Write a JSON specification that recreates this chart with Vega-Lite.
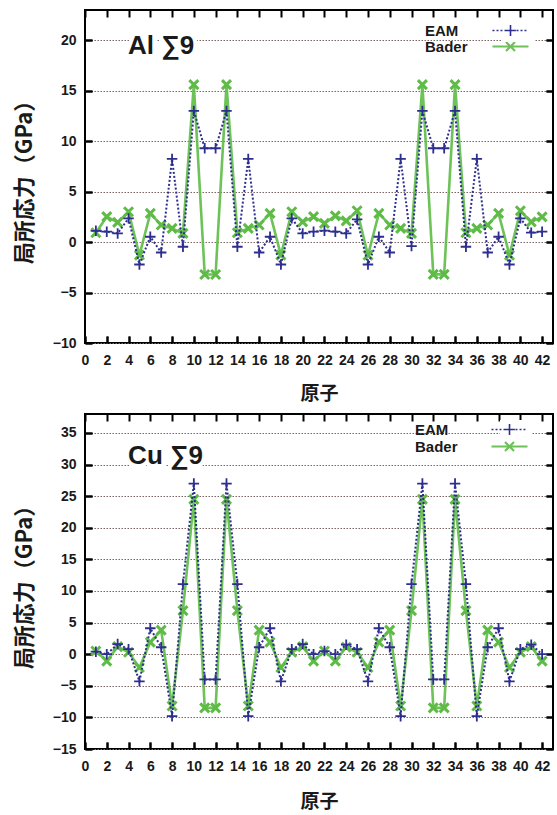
{
  "$schema": "https://vega.github.io/schema/vega-lite/v6.json",
  "background": "white",
  "padding": {"left": 12, "top": 9, "right": 4, "bottom": 0},
  "spacing": 9,
  "datasets": {
    "al": [
      {"atom":1,"series":"EAM","stress":1.12},{"atom":2,"series":"EAM","stress":1.03},{"atom":3,"series":"EAM","stress":0.86},{"atom":4,"series":"EAM","stress":2.35},{"atom":5,"series":"EAM","stress":-2.22},{"atom":6,"series":"EAM","stress":0.53},{"atom":7,"series":"EAM","stress":-1.03},{"atom":8,"series":"EAM","stress":8.24},{"atom":9,"series":"EAM","stress":-0.46},{"atom":10,"series":"EAM","stress":13.0},{"atom":11,"series":"EAM","stress":9.3},{"atom":12,"series":"EAM","stress":9.3},{"atom":13,"series":"EAM","stress":13.0},{"atom":14,"series":"EAM","stress":-0.46},{"atom":15,"series":"EAM","stress":8.24},{"atom":16,"series":"EAM","stress":-1.03},{"atom":17,"series":"EAM","stress":0.53},{"atom":18,"series":"EAM","stress":-2.22},{"atom":19,"series":"EAM","stress":2.35},{"atom":20,"series":"EAM","stress":0.86},{"atom":21,"series":"EAM","stress":1.03},
      {"atom":22,"series":"EAM","stress":1.13},{"atom":23,"series":"EAM","stress":1.03},{"atom":24,"series":"EAM","stress":0.86},{"atom":25,"series":"EAM","stress":2.25},{"atom":26,"series":"EAM","stress":-2.22},{"atom":27,"series":"EAM","stress":0.53},{"atom":28,"series":"EAM","stress":-1.03},{"atom":29,"series":"EAM","stress":8.24},{"atom":30,"series":"EAM","stress":-0.4},{"atom":31,"series":"EAM","stress":13.0},{"atom":32,"series":"EAM","stress":9.3},{"atom":33,"series":"EAM","stress":9.3},{"atom":34,"series":"EAM","stress":13.0},{"atom":35,"series":"EAM","stress":-0.46},{"atom":36,"series":"EAM","stress":8.24},{"atom":37,"series":"EAM","stress":-1.03},{"atom":38,"series":"EAM","stress":0.53},{"atom":39,"series":"EAM","stress":-2.22},{"atom":40,"series":"EAM","stress":2.35},{"atom":41,"series":"EAM","stress":0.93},{"atom":42,"series":"EAM","stress":1.03},
      {"atom":1,"series":"Bader","stress":0.93},{"atom":2,"series":"Bader","stress":2.52},{"atom":3,"series":"Bader","stress":1.95},{"atom":4,"series":"Bader","stress":3.01},{"atom":5,"series":"Bader","stress":-1.29},{"atom":6,"series":"Bader","stress":2.85},{"atom":7,"series":"Bader","stress":1.69},{"atom":8,"series":"Bader","stress":1.36},{"atom":9,"series":"Bader","stress":0.86},{"atom":10,"series":"Bader","stress":15.6},{"atom":11,"series":"Bader","stress":-3.21},{"atom":12,"series":"Bader","stress":-3.21},{"atom":13,"series":"Bader","stress":15.6},{"atom":14,"series":"Bader","stress":0.93},{"atom":15,"series":"Bader","stress":1.36},{"atom":16,"series":"Bader","stress":1.69},{"atom":17,"series":"Bader","stress":2.85},{"atom":18,"series":"Bader","stress":-1.29},{"atom":19,"series":"Bader","stress":3.01},{"atom":20,"series":"Bader","stress":2.0},{"atom":21,"series":"Bader","stress":2.52},
      {"atom":22,"series":"Bader","stress":1.85},{"atom":23,"series":"Bader","stress":2.6},{"atom":24,"series":"Bader","stress":2.1},{"atom":25,"series":"Bader","stress":3.1},{"atom":26,"series":"Bader","stress":-1.3},{"atom":27,"series":"Bader","stress":2.85},{"atom":28,"series":"Bader","stress":1.7},{"atom":29,"series":"Bader","stress":1.36},{"atom":30,"series":"Bader","stress":0.86},{"atom":31,"series":"Bader","stress":15.6},{"atom":32,"series":"Bader","stress":-3.2},{"atom":33,"series":"Bader","stress":-3.2},{"atom":34,"series":"Bader","stress":15.6},{"atom":35,"series":"Bader","stress":0.93},{"atom":36,"series":"Bader","stress":1.36},{"atom":37,"series":"Bader","stress":1.7},{"atom":38,"series":"Bader","stress":2.85},{"atom":39,"series":"Bader","stress":-1.3},{"atom":40,"series":"Bader","stress":3.1},{"atom":41,"series":"Bader","stress":2.0},{"atom":42,"series":"Bader","stress":2.5}
    ],
    "cu": [
      {"atom":1,"series":"EAM","stress":0.4},{"atom":2,"series":"EAM","stress":0.0},{"atom":3,"series":"EAM","stress":1.6},{"atom":4,"series":"EAM","stress":0.8},{"atom":5,"series":"EAM","stress":-4.3},{"atom":6,"series":"EAM","stress":4.1},{"atom":7,"series":"EAM","stress":1.1},{"atom":8,"series":"EAM","stress":-9.8},{"atom":9,"series":"EAM","stress":11.1},{"atom":10,"series":"EAM","stress":27.0},{"atom":11,"series":"EAM","stress":-4.0},{"atom":12,"series":"EAM","stress":-4.0},{"atom":13,"series":"EAM","stress":27.0},{"atom":14,"series":"EAM","stress":11.1},{"atom":15,"series":"EAM","stress":-9.8},{"atom":16,"series":"EAM","stress":1.1},{"atom":17,"series":"EAM","stress":4.1},{"atom":18,"series":"EAM","stress":-4.3},{"atom":19,"series":"EAM","stress":0.8},{"atom":20,"series":"EAM","stress":1.6},{"atom":21,"series":"EAM","stress":0.0},
      {"atom":22,"series":"EAM","stress":0.5},{"atom":23,"series":"EAM","stress":0.0},{"atom":24,"series":"EAM","stress":1.5},{"atom":25,"series":"EAM","stress":0.8},{"atom":26,"series":"EAM","stress":-4.3},{"atom":27,"series":"EAM","stress":4.1},{"atom":28,"series":"EAM","stress":1.1},{"atom":29,"series":"EAM","stress":-9.8},{"atom":30,"series":"EAM","stress":11.1},{"atom":31,"series":"EAM","stress":27.0},{"atom":32,"series":"EAM","stress":-4.0},{"atom":33,"series":"EAM","stress":-4.0},{"atom":34,"series":"EAM","stress":27.0},{"atom":35,"series":"EAM","stress":11.1},{"atom":36,"series":"EAM","stress":-9.8},{"atom":37,"series":"EAM","stress":1.1},{"atom":38,"series":"EAM","stress":4.1},{"atom":39,"series":"EAM","stress":-4.3},{"atom":40,"series":"EAM","stress":0.8},{"atom":41,"series":"EAM","stress":1.5},{"atom":42,"series":"EAM","stress":0.0},
      {"atom":1,"series":"Bader","stress":0.5},{"atom":2,"series":"Bader","stress":-1.1},{"atom":3,"series":"Bader","stress":1.2},{"atom":4,"series":"Bader","stress":0.3},{"atom":5,"series":"Bader","stress":-2.1},{"atom":6,"series":"Bader","stress":1.9},{"atom":7,"series":"Bader","stress":3.8},{"atom":8,"series":"Bader","stress":-8.2},{"atom":9,"series":"Bader","stress":6.9},{"atom":10,"series":"Bader","stress":24.5},{"atom":11,"series":"Bader","stress":-8.5},{"atom":12,"series":"Bader","stress":-8.5},{"atom":13,"series":"Bader","stress":24.5},{"atom":14,"series":"Bader","stress":6.9},{"atom":15,"series":"Bader","stress":-8.2},{"atom":16,"series":"Bader","stress":3.8},{"atom":17,"series":"Bader","stress":1.9},{"atom":18,"series":"Bader","stress":-2.1},{"atom":19,"series":"Bader","stress":0.3},{"atom":20,"series":"Bader","stress":1.2},{"atom":21,"series":"Bader","stress":-1.1},
      {"atom":22,"series":"Bader","stress":0.5},{"atom":23,"series":"Bader","stress":-1.1},{"atom":24,"series":"Bader","stress":1.1},{"atom":25,"series":"Bader","stress":0.3},{"atom":26,"series":"Bader","stress":-2.1},{"atom":27,"series":"Bader","stress":1.9},{"atom":28,"series":"Bader","stress":3.8},{"atom":29,"series":"Bader","stress":-8.2},{"atom":30,"series":"Bader","stress":6.9},{"atom":31,"series":"Bader","stress":24.5},{"atom":32,"series":"Bader","stress":-8.5},{"atom":33,"series":"Bader","stress":-8.5},{"atom":34,"series":"Bader","stress":24.5},{"atom":35,"series":"Bader","stress":6.9},{"atom":36,"series":"Bader","stress":-8.2},{"atom":37,"series":"Bader","stress":3.8},{"atom":38,"series":"Bader","stress":1.9},{"atom":39,"series":"Bader","stress":-2.1},{"atom":40,"series":"Bader","stress":0.3},{"atom":41,"series":"Bader","stress":1.2},{"atom":42,"series":"Bader","stress":-1.1}
    ]
  },
  "vconcat": [
    {
      "width": 468,
      "height": 333,
      "layer": [
        {
          "data": {"name": "al"},
          "transform": [{"filter": "datum.series === 'Bader'"}],
          "mark": {"type": "line", "strokeWidth": 2.6, "opacity": 0.9},
          "encoding": {
            "x": {"field": "atom", "type": "quantitative", "scale": {"domain": [0, 43], "nice": false},
                  "axis": {"orient": "bottom", "title": "原子", "ticks": true, "tickSize": -7, "values": [0,2,4,6,8,10,12,14,16,18,20,22,24,26,28,30,32,34,36,38,40,42],
                           "grid": true, "gridColor": "black", "gridWidth": 2, "gridDash": [7, 319, 7, 1000], "labelPadding": 17, "titlePadding": 17}},
            "y": {"field": "stress", "type": "quantitative", "scale": {"domain": [-10, 23], "nice": false, "zero": false},
                  "axis": {"orient": "left", "title": "局所応力（GPa）", "ticks": true, "tickSize": -7, "values": [-10,-5,0,5,10,15,20], "grid": true, "labelPadding": 16, "titlePadding": 16}},
            "color": {"field": "series", "type": "nominal",
                      "scale": {"domain": ["Bader"], "range": ["#5dbb46"]},
                      "legend": {"orient": "none", "legendX": 416, "legendY": 27, "symbolStrokeWidth": 2.2, "labelOffset": -93,
                                 "symbolType": "M-3,0H3M-0.75,-0.75L0.75,0.75M-0.75,0.75L0.75,-0.75"}}
          }
        },
        {
          "data": {"name": "al"},
          "transform": [{"filter": "datum.series === 'Bader'"}],
          "mark": {"type": "point", "shape": "M-1,-1L1,1M-1,1L1,-1", "filled": false, "color": "#5dbb46", "strokeWidth": 3, "size": 81, "opacity": 1},
          "encoding": {
            "x": {"field": "atom", "type": "quantitative", "axis": null},
            "y": {"field": "stress", "type": "quantitative", "axis": null}
          }
        },
        {
          "data": {"name": "al"},
          "transform": [{"filter": "datum.series === 'EAM'"}],
          "mark": {"type": "line", "strokeWidth": 2, "strokeDash": [2, 2]},
          "encoding": {
            "x": {"field": "atom", "type": "quantitative", "axis": null},
            "y": {"field": "stress", "type": "quantitative",
                  "axis": {"orient": "right", "ticks": true, "tickSize": -7, "labels": false, "title": null, "values": [-10,-5,0,5,10,15,20],
                           "grid": true, "gridColor": "black", "gridWidth": 2, "gridDash": [7, 454, 7, 1000]}},
            "stroke": {"field": "series", "type": "nominal",
                       "scale": {"domain": ["EAM"], "range": ["#2e2e8f"]},
                       "legend": {"orient": "none", "legendX": 416, "legendY": 11, "symbolStrokeWidth": 1.6, "labelOffset": -93,
                                  "symbolType": "M-3,0h0.33M-2.33,0h0.33M-1.67,0h0.33M-1,0h0.33M-0.33,0h0.33M0.33,0h0.33M1,0h0.33M1.67,0h0.33M2.33,0h0.33M0,-0.9V0.9M-0.9,0H0.9"}}
          }
        },
        {
          "data": {"name": "al"},
          "transform": [{"filter": "datum.series === 'EAM'"}],
          "mark": {"type": "point", "shape": "M-1,0H1M0,-1V1", "filled": false, "color": "#2e2e8f", "strokeWidth": 1.8, "size": 110, "opacity": 1},
          "encoding": {
            "x": {"field": "atom", "type": "quantitative", "axis": null},
            "y": {"field": "stress", "type": "quantitative", "axis": null}
          }
        },
        {
          "data": {"values": [{"label": "Al ∑9"}]},
          "mark": {"type": "text", "font": "Liberation Sans", "fontWeight": "bold", "fontSize": 26, "align": "center", "baseline": "middle", "fill": "white", "stroke": "white", "strokeWidth": 8},
          "encoding": {
            "x": {"datum": 7.0, "type": "quantitative", "axis": null},
            "y": {"datum": 19.4, "type": "quantitative", "axis": null},
            "text": {"field": "label"}
          }
        },
        {
          "data": {"values": [{"label": "Al ∑9"}]},
          "mark": {"type": "text", "font": "Liberation Sans", "fontWeight": "bold", "fontSize": 26, "align": "center", "baseline": "middle", "fill": "#1a1a1a"},
          "encoding": {
            "x": {"datum": 7.0, "type": "quantitative", "axis": null},
            "y": {"datum": 19.4, "type": "quantitative", "axis": null},
            "text": {"field": "label"}
          }
        }
      ],
      "resolve": {"axis": {"x": "independent", "y": "independent"}}
    },
    {
      "width": 468,
      "height": 335,
      "layer": [
        {
          "data": {"name": "cu"},
          "transform": [{"filter": "datum.series === 'Bader'"}],
          "mark": {"type": "line", "strokeWidth": 2.6, "opacity": 0.9},
          "encoding": {
            "x": {"field": "atom", "type": "quantitative", "scale": {"domain": [0, 43], "nice": false},
                  "axis": {"orient": "bottom", "title": "原子", "ticks": true, "tickSize": -7, "values": [0,2,4,6,8,10,12,14,16,18,20,22,24,26,28,30,32,34,36,38,40,42],
                           "grid": true, "gridColor": "black", "gridWidth": 2, "gridDash": [7, 321, 7, 1000], "labelPadding": 17, "titlePadding": 19}},
            "y": {"field": "stress", "type": "quantitative", "scale": {"domain": [-15, 38], "nice": false, "zero": false},
                  "axis": {"orient": "left", "title": "局所応力（GPa）", "ticks": true, "tickSize": -7, "values": [-15,-10,-5,0,5,10,15,20,25,30,35], "grid": true, "labelPadding": 16, "titlePadding": 16}},
            "color": {"field": "series", "type": "nominal",
                      "scale": {"domain": ["Bader"], "range": ["#5dbb46"]},
                      "legend": {"orient": "none", "legendX": 415, "legendY": 23, "symbolStrokeWidth": 2.2, "labelOffset": -102,
                                 "symbolType": "M-3,0H3M-0.75,-0.75L0.75,0.75M-0.75,0.75L0.75,-0.75"}}
          }
        },
        {
          "data": {"name": "cu"},
          "transform": [{"filter": "datum.series === 'Bader'"}],
          "mark": {"type": "point", "shape": "M-1,-1L1,1M-1,1L1,-1", "filled": false, "color": "#5dbb46", "strokeWidth": 3, "size": 81, "opacity": 1},
          "encoding": {
            "x": {"field": "atom", "type": "quantitative", "axis": null},
            "y": {"field": "stress", "type": "quantitative", "axis": null}
          }
        },
        {
          "data": {"name": "cu"},
          "transform": [{"filter": "datum.series === 'EAM'"}],
          "mark": {"type": "line", "strokeWidth": 2, "strokeDash": [2, 2]},
          "encoding": {
            "x": {"field": "atom", "type": "quantitative", "axis": null},
            "y": {"field": "stress", "type": "quantitative",
                  "axis": {"orient": "right", "ticks": true, "tickSize": -7, "labels": false, "title": null, "values": [-15,-10,-5,0,5,10,15,20,25,30,35],
                           "grid": true, "gridColor": "black", "gridWidth": 2, "gridDash": [7, 454, 7, 1000]}},
            "stroke": {"field": "series", "type": "nominal",
                       "scale": {"domain": ["EAM"], "range": ["#2e2e8f"]},
                       "legend": {"orient": "none", "legendX": 415, "legendY": 6, "symbolStrokeWidth": 1.6, "labelOffset": -102,
                                  "symbolType": "M-3,0h0.33M-2.33,0h0.33M-1.67,0h0.33M-1,0h0.33M-0.33,0h0.33M0.33,0h0.33M1,0h0.33M1.67,0h0.33M2.33,0h0.33M0,-0.9V0.9M-0.9,0H0.9"}}
          }
        },
        {
          "data": {"name": "cu"},
          "transform": [{"filter": "datum.series === 'EAM'"}],
          "mark": {"type": "point", "shape": "M-1,0H1M0,-1V1", "filled": false, "color": "#2e2e8f", "strokeWidth": 1.8, "size": 110, "opacity": 1},
          "encoding": {
            "x": {"field": "atom", "type": "quantitative", "axis": null},
            "y": {"field": "stress", "type": "quantitative", "axis": null}
          }
        },
        {
          "data": {"values": [{"label": "Cu ∑9"}]},
          "mark": {"type": "text", "font": "Liberation Sans", "fontWeight": "bold", "fontSize": 26, "align": "center", "baseline": "middle", "fill": "white", "stroke": "white", "strokeWidth": 8},
          "encoding": {
            "x": {"datum": 7.4, "type": "quantitative", "axis": null},
            "y": {"datum": 31.4, "type": "quantitative", "axis": null},
            "text": {"field": "label"}
          }
        },
        {
          "data": {"values": [{"label": "Cu ∑9"}]},
          "mark": {"type": "text", "font": "Liberation Sans", "fontWeight": "bold", "fontSize": 26, "align": "center", "baseline": "middle", "fill": "#1a1a1a"},
          "encoding": {
            "x": {"datum": 7.4, "type": "quantitative", "axis": null},
            "y": {"datum": 31.4, "type": "quantitative", "axis": null},
            "text": {"field": "label"}
          }
        }
      ],
      "resolve": {"axis": {"x": "independent", "y": "independent"}}
    }
  ],
  "resolve": {
    "scale": {"color": "independent", "stroke": "independent"},
    "legend": {"color": "independent", "stroke": "independent"}
  },
  "config": {
    "view": {"stroke": "black", "strokeWidth": 2},
    "axis": {
      "domain": false,
      "tickColor": "black",
      "tickWidth": 2,
      "labelFont": "Liberation Sans",
      "labelFontWeight": "bold",
      "labelFontSize": 14,
      "labelColor": "#1a1a1a",
      "labelFlush": false,
      "labelOverlap": false,
      "gridColor": "#7d6464",
      "gridDash": [1.5, 1.5],
      "gridWidth": 1.2,
      "titleFont": "Noto Sans CJK JP",
      "titleFontWeight": "bold",
      "titleColor": "#1a1a1a"
    },
    "axisX": {"titleFontSize": 19},
    "axisY": {"titleFontSize": 22},
    "legend": {
      "title": null,
      "fillColor": "white",
      "padding": 2,
      "labelFont": "Liberation Sans",
      "labelFontWeight": "bold",
      "labelFontSize": 15,
      "labelColor": "#1a1a1a",
      "symbolSize": 144,
      "symbolFillColor": "transparent"
    }
  }
}
